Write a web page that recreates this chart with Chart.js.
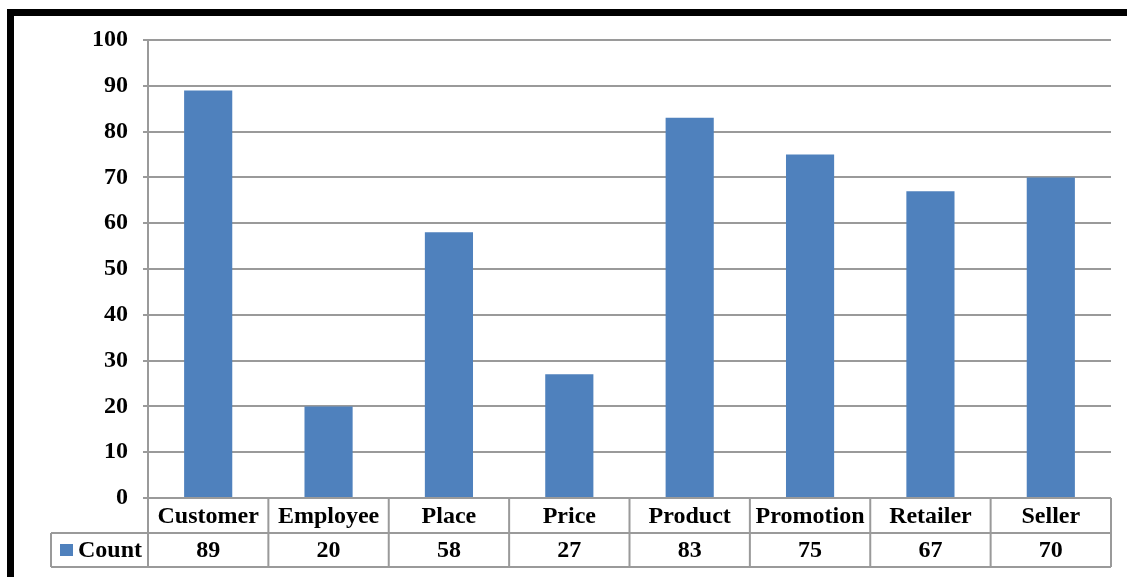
<!DOCTYPE html>
<html>
<head>
<meta charset="utf-8">
<script src="https://cdn.jsdelivr.net/npm/chart.js@4/dist/chart.umd.min.js"></script>
<style>
  html, body { margin: 0; padding: 0; background: #ffffff; }
  #wrap { position: relative; width: 1127px; height: 577px; }
</style>
</head>
<body>
<div id="wrap"><canvas id="c" width="1127" height="577"></canvas></div>
<script>
// Category names, counts and axis ticks
const categories = ['Customer', 'Employee', 'Place', 'Price', 'Product', 'Promotion', 'Retailer', 'Seller'];
const seriesName = 'Count';
const counts = [89, 20, 58, 27, 83, 75, 67, 70];
const yTicks = [0, 10, 20, 30, 40, 50, 60, 70, 80, 90, 100];

const BAR_BLUE = '#4F81BD';
const GRID_GREY = '#9a9a9a';
const FONT = 'bold 24px "Liberation Serif", "Times New Roman", serif';

// Thick black frame along the top and left edges
const framePlugin = {
  id: 'frame',
  beforeDraw(chart) {
    const ctx = chart.ctx;
    ctx.save();
    ctx.fillStyle = '#ffffff';
    ctx.fillRect(0, 0, chart.width, chart.height);
    ctx.fillStyle = '#000000';
    ctx.fillRect(7, 9, chart.width - 7, 7);
    ctx.fillRect(7, 9, 7, chart.height - 9);
    ctx.restore();
  }
};

// Data table under the plot: category row, then legend key + values row
const dataTablePlugin = {
  id: 'dataTable',
  afterDraw(chart) {
    const ctx = chart.ctx;
    const x = chart.scales.x;
    const area = chart.chartArea;
    const n = categories.length;
    const colW = (area.right - area.left) / n;
    const row1Top = area.bottom;
    const row2Top = row1Top + 35;
    const tableBottom = row2Top + 34;
    const keyLeft = 51;

    ctx.save();
    ctx.strokeStyle = GRID_GREY;
    ctx.lineWidth = 2;
    ctx.beginPath();
    // horizontal rules
    ctx.moveTo(keyLeft, row2Top); ctx.lineTo(area.right, row2Top);
    ctx.moveTo(keyLeft, tableBottom); ctx.lineTo(area.right, tableBottom);
    // left edge of key cell
    ctx.moveTo(keyLeft, row2Top); ctx.lineTo(keyLeft, tableBottom);
    // column dividers
    for (let i = 0; i <= n; i++) {
      const px = area.left + i * colW;
      ctx.moveTo(px, row1Top); ctx.lineTo(px, tableBottom);
    }
    ctx.stroke();

    ctx.fillStyle = '#000000';
    ctx.font = FONT;
    ctx.textAlign = 'center';
    ctx.textBaseline = 'middle';
    categories.forEach((cat, i) => {
      const cx = x.getPixelForValue(i);
      ctx.fillText(cat, cx, (row1Top + row2Top) / 2 + 1);
      ctx.fillText(String(counts[i]), cx, (row2Top + tableBottom) / 2 + 1);
    });

    // legend key
    const midY = (row2Top + tableBottom) / 2;
    ctx.fillStyle = BAR_BLUE;
    ctx.fillRect(60, midY - 6, 13, 12);
    ctx.fillStyle = '#000000';
    ctx.textAlign = 'left';
    ctx.fillText(seriesName, 78, midY + 1);
    ctx.restore();
  }
};

new Chart(document.getElementById('c'), {
  type: 'bar',
  data: {
    labels: categories,
    datasets: [{
      label: seriesName,
      data: counts,
      backgroundColor: BAR_BLUE,
      borderWidth: 0,
      barPercentage: 0.4,
      categoryPercentage: 1.0
    }]
  },
  options: {
    responsive: false,
    animation: false,
    devicePixelRatio: 1,
    layout: { padding: { top: 40, right: 16, bottom: 79, left: 0 } },
    plugins: {
      legend: { display: false },
      tooltip: { enabled: false }
    },
    scales: {
      x: {
        display: false,
        offset: true
      },
      y: {
        min: 0,
        max: 100,
        afterFit(scale) { scale.width = 148; },
        afterBuildTicks(scale) { scale.ticks = yTicks.map(v => ({ value: v })); },
        grid: {
          color: GRID_GREY,
          lineWidth: 2,
          drawTicks: true,
          tickLength: 5,
          tickColor: GRID_GREY
        },
        border: { color: GRID_GREY, width: 2 },
        ticks: {
          color: '#000000',
          padding: 15,
          font: { family: '"Liberation Serif", "Times New Roman", serif', size: 24, weight: 'bold' }
        }
      }
    }
  },
  plugins: [framePlugin, dataTablePlugin]
});
</script>
</body>
</html>
